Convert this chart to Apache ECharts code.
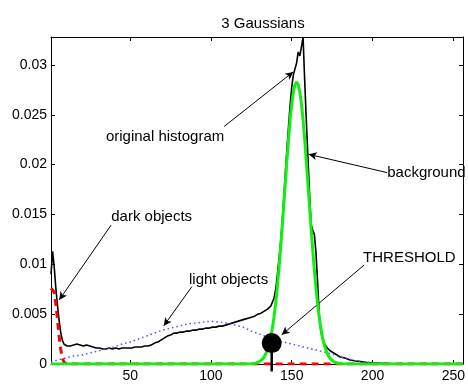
<!DOCTYPE html>
<html>
<head>
<meta charset="utf-8">
<script src="https://cdn.jsdelivr.net/npm/echarts@6/dist/echarts.min.js"></script>
<style>
  html, body { margin: 0; padding: 0; background: #fff; }
  #chart { width: 468px; height: 385px; }
</style>
</head>
<body>
<div id="chart"></div>
<script>
// grey levels and histogram
const histX = [1,2,3,4,5,6,7,8,9,10,11,12,13,14,15,17,19,21,23,25,27,29,31,33,35,37,39,41,43,45,47,49,51,53,55,57,59,61,63,65,67,69,71,73,75,77,79,81,83,85,87,89,91,93,95,97,99,101,103,105,107,109,111,113,115,117,119,121,123,125,127,129,131,133,135,137,138,139,140,141,142,143,144,145,146,147,148,149,150,151,152,153,154,155,156,157,158,159,160,161,162,163,164,165,166,167,168,169,170,172,174,176,178,180,183,186,190,196,200,205,210,220,230,256];
const histY = [0.0090,0.0113,0.0097,0.0076,0.0059,0.0044,0.0032,0.0024,0.0020,0.0019,0.0018,0.0019,0.0018,0.0019,0.0019,0.0020,0.0019,0.0018,0.0019,0.0018,0.0017,0.0016,0.0016,0.0015,0.0015,0.0016,0.0015,0.0016,0.0015,0.0016,0.0016,0.0016,0.0016,0.0017,0.0017,0.0017,0.0018,0.0018,0.0019,0.0021,0.0022,0.0024,0.0026,0.0028,0.0029,0.0031,0.0031,0.0032,0.0032,0.0033,0.0033,0.0034,0.0034,0.0035,0.0035,0.0036,0.0036,0.0037,0.0037,0.0038,0.0038,0.0039,0.0040,0.0041,0.0042,0.0043,0.0044,0.0045,0.0046,0.0047,0.0048,0.0050,0.0051,0.0053,0.0055,0.0058,0.0060,0.0066,0.0074,0.0088,0.0104,0.0120,0.0140,0.0165,0.0190,0.0215,0.0238,0.0260,0.0278,0.0290,0.0296,0.0302,0.0313,0.0309,0.0318,0.0328,0.0285,0.0245,0.0208,0.0172,0.0140,0.0134,0.0130,0.0112,0.0082,0.0050,0.0033,0.0025,0.0021,0.0016,0.0013,0.0011,0.0009,0.0007,0.0006,0.0004,0.0003,0.00016,0.0001,0.00008,0.00005,0.00002,0.00001,0];

// background gaussian (green)
const bgX = [1,120,125,128,129,130,131,132,133,134,135,136,137,138,139,140,141,142,143,144,145,146,147,148,149,150,151,152,153,154,155,156,157,158,159,160,161,162,163,164,165,166,167,168,169,170,171,172,173,174,175,176,177,178,181,186,256];
const bgY = [0,0,0.00002,0.0001,0.00015,0.00023,0.00034,0.0005,0.00073,0.00105,0.00147,0.0020,0.0027,0.0036,0.0047,0.0060,0.0076,0.0094,0.0114,0.0135,0.0158,0.0181,0.0204,0.0225,0.0245,0.0261,0.0273,0.0280,0.0283,0.0280,0.0273,0.0261,0.0245,0.0225,0.0204,0.0181,0.0158,0.0135,0.0114,0.0094,0.0076,0.0060,0.0047,0.0036,0.0027,0.0020,0.00147,0.00105,0.00073,0.0005,0.00034,0.00023,0.00015,0.0001,0.00002,0,0];

// dark objects gaussian (red dashed)
const darkX = [1,2,3,4,5,6,7,8,9,10,11,256];
const darkY = [0.0076,0.0078,0.0072,0.0060,0.0045,0.0028,0.0015,0.0006,0.0002,0.00005,0,0];

// light objects gaussian (blue dotted)
const lightX = [1,5,10,15,20,25,30,35,40,45,50,55,60,65,70,75,80,85,90,95,100,105,110,115,120,125,130,135,140,145,150,155,160,165,170,175,180,185,190,195,200,210,220,256];
const lightY = [0.0002,0.0004,0.0006,0.0008,0.0009,0.0011,0.0013,0.0015,0.0017,0.0020,0.0022,0.0025,0.0028,0.0031,0.0034,0.0036,0.0038,0.0040,0.0041,0.0042,0.0043,0.0042,0.0041,0.0039,0.0037,0.0033,0.0030,0.0027,0.0024,0.0022,0.0020,0.0018,0.0016,0.0014,0.0012,0.0010,0.0007,0.0005,0.0003,0.0002,0.0001,0.00003,0.00001,0];

const threshold = [137.6, 0.0021];
const stemBottom = -0.00075;

const xTicks = [50, 100, 150, 200, 250];
const yTicks = [0, 0.005, 0.01, 0.015, 0.02, 0.025, 0.03];

// annotations: text, text anchor, arrow start, arrow tip
const notes = [
  { text: "original histogram", at: [71.6, 0.02276], align: "center", from: [108.2, 0.02383], to: [150.9, 0.0293] },
  { text: "background", at: [209.1, 0.01916], align: "left", from: [209.0, 0.0192], to: [160.5, 0.02103] },
  { text: "dark objects", at: [63.3, 0.01476], align: "center", from: [38.2, 0.01393], to: [6.1, 0.00643] },
  { text: "light objects", at: [110.9, 0.00843], align: "center", from: [88.2, 0.00776], to: [70.8, 0.00383] },
  { text: "THRESHOLD", at: [222.8, 0.0106], align: "center", from: [194.8, 0.00993], to: [143.8, 0.00293] },
];

const font = "'Liberation Sans', Arial, Helvetica, sans-serif";
const zip = (xs, ys) => xs.map((x, i) => [x, ys[i]]);

const chart = echarts.init(document.getElementById("chart"), null, { renderer: "canvas" });

const axisBase = {
  type: "value",
  axisLine: { show: true, onZero: false, lineStyle: { color: "#000", width: 1 } },
  splitLine: { show: false },
};

chart.setOption({
  animation: false,
  backgroundColor: "#fff",
  textStyle: { fontFamily: font },
  title: {
    text: "3 Gaussians",
    left: 258,
    top: 11,
    textAlign: "center",
    textStyle: { fontFamily: font, fontSize: 15, fontWeight: "normal", color: "#000" },
  },
  grid: { left: 51, right: 2, top: 37, bottom: 21 },
  xAxis: [
    {
      ...axisBase,
      position: "bottom",
      min: 1,
      max: 256,
      axisTick: { inside: true, length: 4, customValues: xTicks, lineStyle: { color: "#000" } },
      axisLabel: { customValues: xTicks, color: "#000", fontSize: 14, margin: 5, fontFamily: font },
    },
    {
      ...axisBase,
      position: "top",
      min: 1,
      max: 256,
      axisTick: { inside: true, length: 4, customValues: xTicks, lineStyle: { color: "#000" } },
      axisLabel: { show: false },
    },
  ],
  yAxis: [
    {
      ...axisBase,
      position: "left",
      min: 0,
      max: 0.0328,
      axisTick: { inside: true, length: 4, customValues: yTicks, lineStyle: { color: "#000" } },
      axisLabel: {
        customValues: yTicks,
        color: "#000",
        fontSize: 14,
        margin: 4,
        fontFamily: font,
        formatter: (v) => String(+v.toFixed(4)),
      },
    },
    {
      ...axisBase,
      position: "right",
      min: 0,
      max: 0.0328,
      axisTick: { inside: true, length: 4, customValues: yTicks, lineStyle: { color: "#000" } },
      axisLabel: { show: false },
    },
  ],
  series: [
    {
      name: "histogram",
      type: "line",
      data: zip(histX, histY),
      showSymbol: false,
      lineStyle: { color: "#000", width: 1.6 },
      z: 2,
    },
    {
      name: "light objects",
      type: "line",
      data: zip(lightX, lightY),
      showSymbol: false,
      lineStyle: { color: "#4f4fff", width: 1.5, type: [1.5, 3] },
      z: 3,
    },
    {
      name: "dark objects",
      type: "line",
      data: zip(darkX, darkY),
      showSymbol: false,
      lineStyle: { color: "#ff0000", width: 3, type: [7, 5] },
      z: 4,
    },
    {
      name: "background",
      type: "line",
      data: zip(bgX, bgY),
      showSymbol: false,
      lineStyle: { color: "#11ee11", width: 3 },
      z: 5,
    },
    {
      name: "stem",
      type: "line",
      data: [threshold, [threshold[0], stemBottom]],
      showSymbol: false,
      clip: false,
      lineStyle: { color: "#000", width: 2.5 },
      z: 6,
    },
    {
      name: "threshold",
      type: "scatter",
      data: [threshold],
      symbolSize: 20,
      itemStyle: { color: "#000", opacity: 1 },
      z: 7,
    },
    {
      name: "arrows",
      type: "line",
      data: [],
      markLine: {
        silent: true,
        symbol: ["none", "arrow"],
        symbolSize: [6, 8],
        label: { show: false },
        lineStyle: { color: "#000", width: 1, type: "solid" },
        data: notes.map((n) => [{ coord: n.from }, { coord: n.to }]),
      },
      z: 8,
    },
    {
      name: "notes",
      type: "scatter",
      symbolSize: 0,
      itemStyle: { opacity: 1 },
      data: notes.map((n) => ({
        value: n.at,
        label: {
          show: true,
          position: "inside",
          align: n.align,
          verticalAlign: "middle",
          formatter: n.text,
          color: "#000",
          fontSize: 15,
          fontFamily: font,
        },
      })),
      z: 9,
    },
  ],
});
</script>
</body>
</html>
